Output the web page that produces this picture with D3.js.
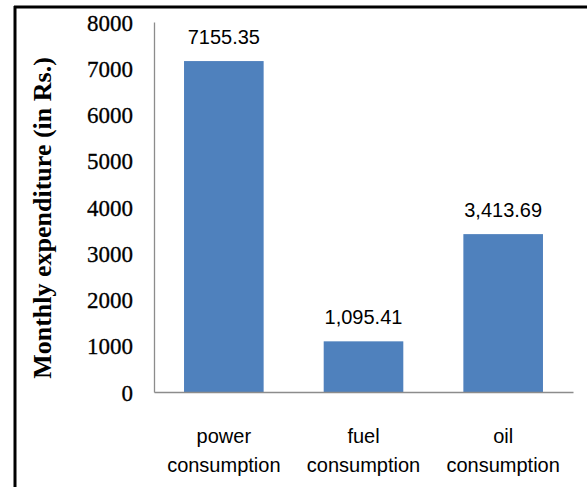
<!DOCTYPE html>
<html><head><meta charset="utf-8">
<script src="https://cdn.jsdelivr.net/npm/d3@7"></script>
<style>body{margin:0;background:#fff}svg{display:block}</style>
</head><body>
<script>
const categories = [["power","consumption"],["fuel","consumption"],["oil","consumption"]];
const values = [7155.35, 1095.41, 3413.69];
const valueLabels = ["7155.35", "1,095.41", "3,413.69"];
const yTicks = [0,1000,2000,3000,4000,5000,6000,7000,8000];
const yTitle = "Monthly expenditure (in Rs.)";

(function(){
const W = 587, H = 487;
const svg = d3.select("body").append("svg").attr("width", W).attr("height", H);

// frame
svg.append("line").attr("x1",15).attr("x2",15).attr("y1",6).attr("y2",H).attr("stroke","#000").attr("stroke-width",3);
svg.append("line").attr("x1",14).attr("x2",W).attr("y1",7).attr("y2",7).attr("stroke","#000").attr("stroke-width",3);

const mLeft = 154, mRight = 573, mTop = 22, mBottom = 392;
const x = d3.scaleBand().domain(d3.range(categories.length)).range([mLeft,mRight]).paddingInner(0.43).paddingOuter(0.215);
const y = d3.scaleLinear().domain([0,8000]).range([mBottom, mTop]);

// bars
svg.selectAll("rect.bar").data(values).join("rect").attr("class","bar")
  .attr("x",(d,i)=>x(i)).attr("width",x.bandwidth())
  .attr("y",d=>y(d)).attr("height",d=>y(0)-y(d)).attr("fill","#4F81BD");

// y axis
const yAxis = d3.axisLeft(y).tickValues(yTicks).tickSize(0).tickPadding(21).tickFormat(d3.format("d"));
const gy = svg.append("g").attr("transform",`translate(${mLeft},0)`).call(yAxis);
gy.select(".domain").attr("stroke","#8c8c8c").attr("stroke-width",1.3);
gy.selectAll("text").attr("font-family","'Liberation Serif', serif").attr("font-size",23)
  .attr("fill","#000").attr("stroke","#000").attr("stroke-width",0.3).attr("dy","0.35em");

// x axis
const xAxis = d3.axisBottom(x).tickSize(0).tickFormat("");
const gx = svg.append("g").attr("transform",`translate(0,${mBottom})`).call(xAxis);
gx.select(".domain").attr("stroke","#8c8c8c").attr("stroke-width",1.3);

// category labels
categories.forEach((c,i)=>{
  const t = svg.append("text").attr("x", x(i)+x.bandwidth()/2).attr("y", 443)
    .attr("text-anchor","middle").attr("font-family","'Liberation Sans', sans-serif").attr("font-size",20).attr("fill","#000");
  c.forEach((line,j)=>t.append("tspan").attr("x", x(i)+x.bandwidth()/2).attr("dy", j===0?0:29).text(line));
});

// value labels
svg.selectAll("text.val").data(values).join("text").attr("class","val")
  .attr("x",(d,i)=>x(i)+x.bandwidth()/2).attr("y",d=>y(d)-17)
  .attr("text-anchor","middle").attr("font-family","'Liberation Sans', sans-serif").attr("font-size",20).attr("fill","#000")
  .text((d,i)=>valueLabels[i]);

// y title
svg.append("text").attr("transform",`translate(51,${(47+383)/2 + 3}) rotate(-90)`)
  .attr("text-anchor","middle").attr("font-family","'Liberation Serif', serif").attr("font-weight","bold")
  .attr("font-size",26).attr("fill","#000").text(yTitle);
})();
</script>
</body></html>
